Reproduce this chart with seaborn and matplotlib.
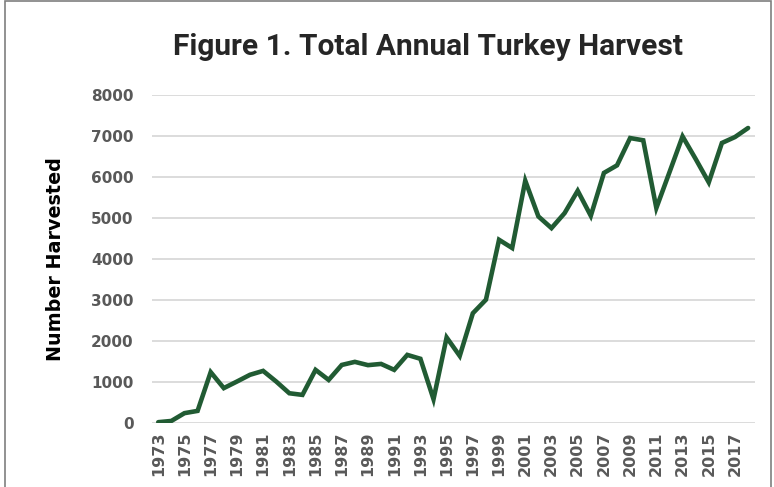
import numpy as np
import pandas as pd
import seaborn as sns
import matplotlib.pyplot as plt
from matplotlib.patches import Rectangle

years = list(range(1973, 2019))
harvest = [25, 55, 245, 300, 1245, 855, 1015, 1180, 1275, 1015,
           730, 690, 1300, 1055, 1420, 1495, 1415, 1445, 1300, 1665,
           1570, 585, 2090, 1640, 2680, 3010, 4470, 4270, 5910, 5040,
           4755, 5120, 5665, 5055, 6100, 6285, 6950, 6895, 5245, 6115,
           6990, 6440, 5870, 6830, 6975, 7195]

df = pd.DataFrame({"Year": years, "Harvest": harvest})

sns.set_style("white")
plt.rcParams['font.family'] = ['DejaVu Sans']

fig = plt.figure(figsize=(7.74, 4.87), dpi=100)
ax = fig.add_axes([0.196, 0.131, 0.779, 0.674])

sns.lineplot(data=df, x="Year", y="Harvest", color="#215b33", linewidth=3.3,
             solid_capstyle="round", solid_joinstyle="miter", ax=ax, zorder=3)

ax.set_xlim(1972.5, 2018.5)
ax.set_ylim(0, 8000)
ax.set_yticks(range(0, 8001, 1000))
ax.set_xticks(years[::2])
ax.set_xticklabels([str(y) for y in years[::2]], rotation=90)
ax.yaxis.grid(True, color="#d9d9d9", linewidth=1.3)
ax.xaxis.grid(False)
for s in ax.spines.values():
    s.set_visible(False)
ax.tick_params(axis="both", length=0, labelsize=11, labelcolor="#595959")
ax.tick_params(axis="x", labelsize=11.5, pad=6)
ax.tick_params(axis="y", pad=13)
for lab in ax.get_xticklabels() + ax.get_yticklabels():
    lab.set_fontweight("bold")

ax.set_xlabel("")
ax.set_ylabel("Number Harvested", fontsize=13.8, fontweight="bold", color="black", labelpad=19)

fig.text(0.553, 1 - 33 / 487, "Figure 1. Total Annual Turkey Harvest",
         ha="center", va="top", fontsize=21.5, fontweight="bold",
         family=['Roboto', 'DejaVu Sans'])

# frame around figure
fig.patches.append(Rectangle((0.007, -0.05), 0.989, 1.047, transform=fig.transFigure,
                             fill=False, edgecolor="#7f7f7f", linewidth=1.2))

fig.savefig("out.png", dpi=100)
